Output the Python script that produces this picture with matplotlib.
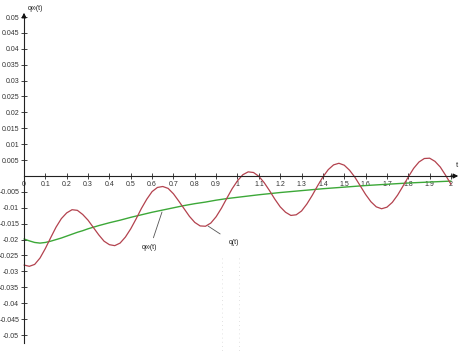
import numpy as np
import matplotlib
matplotlib.use("Agg")
import matplotlib.pyplot as plt

# ---- data ----
t_green = [0.0, 0.025, 0.05, 0.075, 0.1, 0.125, 0.15, 0.175, 0.2, 0.225, 0.25, 0.275, 0.3,
           0.35, 0.4, 0.45, 0.5, 0.55, 0.6, 0.65, 0.7, 0.75, 0.8, 0.85, 0.9, 0.95, 1.0,
           1.1, 1.2, 1.3, 1.4, 1.5, 1.6, 1.7, 1.8, 1.9, 2.0]
q_inf = [-0.0198, -0.0204, -0.0209, -0.0211, -0.0209, -0.0205, -0.0200, -0.0195, -0.0189,
         -0.0183, -0.0177, -0.0172, -0.0166, -0.0156, -0.0147, -0.0139, -0.0130, -0.0122,
         -0.0114, -0.0107, -0.0100, -0.0093, -0.0087, -0.0082, -0.0076, -0.0071, -0.0067,
         -0.0059, -0.0052, -0.0046, -0.0040, -0.0035, -0.0030, -0.0026, -0.0022, -0.0019,
         -0.0016]

t_red = [round(0.025 * k, 3) for k in range(81)]
q = [-0.0280, -0.0284, -0.0278, -0.0258, -0.0228, -0.0194, -0.0161, -0.0134, -0.0116, -0.0106,
     -0.0108, -0.0121, -0.0139, -0.0162, -0.0185, -0.0205, -0.0216, -0.0219, -0.0211, -0.0192,
     -0.0166, -0.0135, -0.0102, -0.0073, -0.0049, -0.0036, -0.0033, -0.0039, -0.0056, -0.0079,
     -0.0103, -0.0127, -0.0146, -0.0157, -0.0158, -0.0148, -0.0128, -0.0101, -0.0070, -0.0040,
     -0.0015, 0.0004, 0.0013, 0.0011, -0.0001, -0.0021, -0.0046, -0.0073, -0.0097, -0.0114,
     -0.0124, -0.0122, -0.0110, -0.0088, -0.0061, -0.0031, -0.0003, 0.0020, 0.0035, 0.0040,
     0.0034, 0.0018, -0.0004, -0.0031, -0.0058, -0.0081, -0.0097, -0.0103, -0.0098, -0.0083,
     -0.0060, -0.0032, -0.0003, 0.0024, 0.0044, 0.0055, 0.0056, 0.0046, 0.0028, 0.0002,
     -0.0026]

x_ticks = [0, 0.1, 0.2, 0.3, 0.4, 0.5, 0.6, 0.7, 0.8, 0.9, 1, 1.1, 1.2, 1.3, 1.4, 1.5, 1.6,
           1.7, 1.8, 1.9, 2]
x_tick_labels = ["0", "0.1", "0.2", "0.3", "0.4", "0.5", "0.6", "0.7", "0.8", "0.9", "1",
                 "1.1", "1.2", "1.3", "1.4", "1.5", "1.6", "1.7", "1.8", "1.9", "2"]
y_ticks = [0.05, 0.045, 0.04, 0.035, 0.03, 0.025, 0.02, 0.015, 0.01, 0.005,
           -0.005, -0.01, -0.015, -0.02, -0.025, -0.03, -0.035, -0.04, -0.045, -0.05]
y_tick_labels = ["0.05", "0.045", "0.04", "0.035", "0.03", "0.025", "0.02", "0.015", "0.01",
                 "0.005", "-0.005", "-0.01", "-0.015", "-0.02", "-0.025", "-0.03", "-0.035",
                 "-0.04", "-0.045", "-0.05"]

RED = "#b3424e"
GREEN = "#3ca838"
FONT = "Liberation Sans"

W, H = 471, 353
fig = plt.figure(figsize=(W / 100, H / 100), dpi=100)
ax = fig.add_axes([0, 0, 1, 1])

px_x = 213.5   # pixels per unit t
px_y = 3180.0  # pixels per unit q
x0, y0 = 24, 176
ax.set_xlim(-x0 / px_x, (W - x0) / px_x)
ax.set_ylim(-(H - y0) / px_y, y0 / px_y)

for s in ["top", "right"]:
    ax.spines[s].set_visible(False)
ax.spines["left"].set_position(("data", 0))
ax.spines["bottom"].set_position(("data", 0))
ax.spines["left"].set_bounds(-(343 - y0) / px_y, (y0 - 16) / px_y)
ax.spines["bottom"].set_bounds(0, (452 - x0) / px_x)
for s in ["left", "bottom"]:
    ax.spines[s].set_color("#222222")
    ax.spines[s].set_linewidth(0.8)

ax.set_xticks(x_ticks)
ax.set_xticklabels(x_tick_labels)
ax.set_yticks(y_ticks)
ax.set_yticklabels(y_tick_labels)
ax.tick_params(axis="both", direction="inout", length=4, width=0.6, color="#222222",
               labelsize=5, labelcolor="#333333", pad=1.5)
for lab in ax.get_xticklabels() + ax.get_yticklabels():
    lab.set_fontfamily(FONT)

# arrow heads
ax.annotate("", xy=(0, (y0 - 10) / px_y), xytext=(0, (y0 - 20) / px_y),
            arrowprops=dict(arrowstyle="-|>", color="#111111", lw=0.8, mutation_scale=7))
ax.annotate("", xy=((461 - x0) / px_x, 0), xytext=((448 - x0) / px_x, 0),
            arrowprops=dict(arrowstyle="-|>", color="#111111", lw=0.8, mutation_scale=7))

# faint dotted verticals
for tv in [0.927, 1.007]:
    ax.plot([tv, tv], [-(258 - y0) / px_y, -(H - y0) / px_y], color="#d8d8d8",
            lw=0.6, ls=(0, (1, 4)))

ax.plot(t_green, q_inf, color=GREEN, lw=1.0, solid_capstyle="round")
ax.plot(t_red, q, color=RED, lw=0.9, solid_capstyle="round")

# axis labels
ax.text(4 / px_x, (y0 - 9) / px_y, "q\u221e(t)", fontsize=5, family=FONT,
        ha="left", va="center", color="#222222")
ax.text((457 - x0) / px_x, (y0 - 166) / px_y, "t", fontsize=5.5, family=FONT,
        ha="center", va="center", color="#222222")

# curve annotations
def px(xp, yp):
    return ((xp - x0) / px_x, (y0 - yp) / px_y)

ax.annotate("q\u221e(t)", xy=px(162, 212), xytext=px(150, 248), fontsize=5, family=FONT,
            ha="center", va="center", color="#222222",
            arrowprops=dict(arrowstyle="-", color="#555555", lw=0.6,
                            shrinkA=3, shrinkB=0))
ax.annotate("q(t)", xy=px(208, 226), xytext=px(234, 243), fontsize=5, family=FONT,
            ha="center", va="center", color="#222222",
            arrowprops=dict(arrowstyle="-", color="#555555", lw=0.6,
                            shrinkA=5, shrinkB=0))

fig.savefig("out.png", dpi=100)
